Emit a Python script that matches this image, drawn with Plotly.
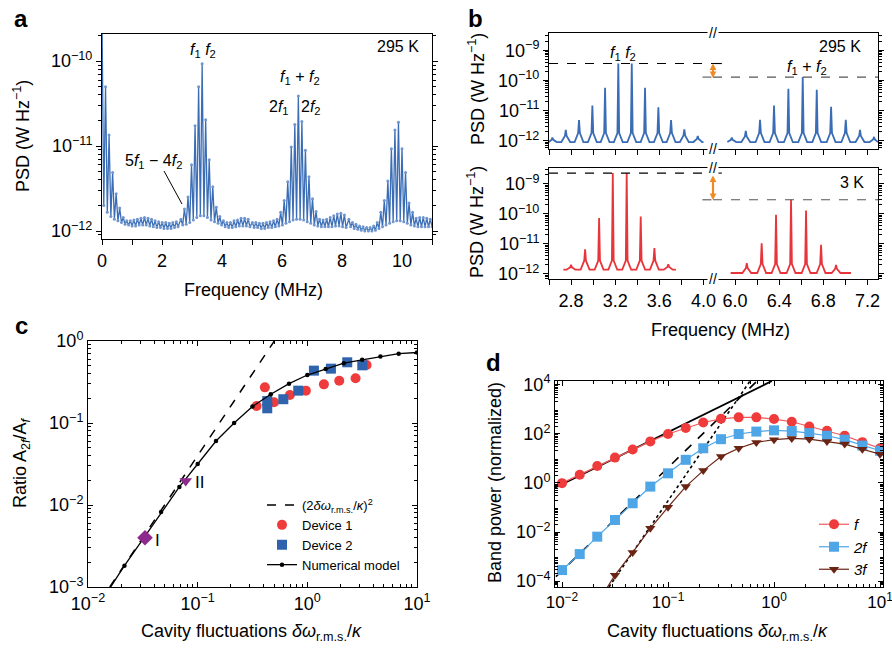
import plotly.graph_objects as go

W, H = 892, 648
def px(x): return x / W
def py(y): return 1 - y / H

FONT = "Liberation Sans, Arial, sans-serif"

# ---------------- Panel a: 295 K spectrum (log10 PSD) ----------------
a_tooth_spacing = 0.118
a_seg_start = [0.0, 2.63, 5.011, 8.23]
a_seg_peak_log = [
    [-9.5, -10.30, -10.87, -11.31, -11.56, -11.73, -11.84, -11.88, -11.88, -11.87, -11.86,
     -11.85, -11.84, -11.85, -11.86, -11.88, -11.89, -11.90, -11.90, -11.91, -11.90, -11.89],
    [-11.86, -11.74, -11.60, -11.22, -10.76, -10.30, -10.03, -10.69, -11.16, -11.48, -11.72,
     -11.83, -11.88, -11.90, -11.90, -11.88, -11.87, -11.85, -11.85, -11.86],
    [-11.90, -11.90, -11.91, -11.91, -11.90, -11.89, -11.88, -11.86, -11.78, -11.64, -11.42,
     -11.01, -10.745, -10.41, -10.71, -11.05, -11.36, -11.62, -11.77, -11.86, -11.87, -11.86,
     -11.84, -11.82, -11.80, -11.79, -11.81],
    [-11.86, -11.90, -11.92, -11.94, -11.95, -11.96, -11.96, -11.94, -11.90, -11.78, -11.64,
     -11.41, -11.03, -10.81, -10.72, -11.03, -11.31, -11.67, -11.78, -11.85, -11.84, -11.84,
     -11.85, -11.86],
]
a_seg_trough_log = [
    [-11.70, -11.78, -11.83, -11.86, -11.88, -11.90, -11.92, -11.93, -11.94, -11.94, -11.93,
     -11.93, -11.93, -11.94, -11.95, -11.96, -11.96, -11.97, -11.97, -11.97, -11.96, -11.95],
    [-11.93, -11.92, -11.90, -11.87, -11.84, -11.82, -11.82, -11.84, -11.87, -11.89, -11.91,
     -11.93, -11.95, -11.96, -11.96, -11.95, -11.94, -11.94, -11.94, -11.95],
    [-11.96, -11.96, -11.97, -11.97, -11.96, -11.96, -11.95, -11.94, -11.93, -11.91, -11.89,
     -11.87, -11.86, -11.86, -11.87, -11.89, -11.91, -11.93, -11.94, -11.95, -11.95, -11.95,
     -11.95, -11.94, -11.94, -11.95, -11.96],
    [-11.95, -11.97, -11.98, -11.99, -12.00, -12.00, -12.00, -11.99, -11.97, -11.95, -11.93,
     -11.91, -11.89, -11.88, -11.88, -11.89, -11.91, -11.93, -11.94, -11.95, -11.95, -11.95,
     -11.95, -11.95],
]

# ---------------- Panel b: zoomed spectra ----------------
b_hot_left_peak_f = [2.631, 2.752, 2.872, 2.993, 3.108, 3.228, 3.350, 3.470, 3.591, 3.706, 3.826, 3.948]
b_hot_left_peak_log = [-11.89, -11.64, -11.31, -10.83, -10.24, -9.44, -9.44, -10.24, -10.89, -11.31, -11.62, -11.84]
b_hot_left_span = [2.60, 4.00]
b_hot_right_peak_f = [5.970, 6.097, 6.226, 6.353, 6.483, 6.613, 6.740, 6.870, 7.003, 7.132, 7.259]
b_hot_right_peak_log = [-11.89, -11.67, -11.30, -10.83, -10.28, -9.89, -10.31, -10.87, -11.30, -11.64, -11.87]
b_hot_right_span = [5.93, 7.295]
b_hot_base_log = -12.04
b_hot_levels_log = [-9.44, -9.89]

b_cold_left_peak_f = [2.800, 2.927, 3.054, 3.178, 3.304, 3.431, 3.555, 3.681]
b_cold_left_peak_log = [-11.70, -11.18, -10.14, -8.64, -8.64, -10.09, -11.14, -11.68]
b_cold_left_span = [2.73, 3.75]
b_cold_left_base_log = -11.86
b_cold_right_peak_f = [6.106, 6.241, 6.371, 6.507, 6.643, 6.779, 6.915]
b_cold_right_peak_log = [-11.64, -10.98, -10.03, -9.53, -9.89, -11.03, -11.70]
b_cold_right_span = [5.96, 7.05]
b_cold_right_base_log = -11.97
b_cold_levels_log = [-8.64, -9.53]
b_foot_rise_log = 0.3          # height of the broad foot of each line above the floor

b_left_range = [2.60, 4.086]
b_right_range = [5.80, 7.295]

# ---------------- Panel c ----------------
c_model_x = [0.01, 0.0147, 0.0215, 0.0316, 0.0464, 0.0681, 0.1, 0.147, 0.215, 0.316,
             0.464, 0.681, 1.0, 1.47, 2.15, 3.16, 4.64, 6.81, 10.0]
c_model_y = [10**v for v in [-3.40, -3.08, -2.74, -2.42, -2.085, -1.78, -1.50, -1.22, -1.00,
                             -0.80, -0.65, -0.52, -0.415, -0.34, -0.27, -0.23, -0.19, -0.155, -0.14]]
c_guide_x = [0.0158, 0.5]
c_guide_y = [0.001, 1.0]
c_dev1_x = [0.345, 0.410, 0.497, 0.693, 0.970, 1.416, 1.954, 2.754, 3.467]
c_dev1_y = [0.161, 0.272, 0.179, 0.219, 0.248, 0.296, 0.328, 0.351, 0.509]
c_dev2_x = [0.431, 0.431, 0.604, 0.826, 1.148, 1.641, 2.312, 3.170]
c_dev2_y = [0.151, 0.185, 0.195, 0.248, 0.435, 0.460, 0.550, 0.505]
c_pt1 = (0.0331, 0.00398)
c_pt2 = (0.0778, 0.0196)

# ---------------- Panel d ----------------
d_x = c_model_x
d_f_log = [-0.01, 0.33, 0.69, 1.03, 1.36, 1.69, 1.99, 2.24, 2.46, 2.61, 2.67, 2.67, 2.60,
           2.49, 2.30, 2.12, 1.92, 1.66, 1.41]
d_2f_log = [-3.55, -2.90, -2.19, -1.51, -0.83, -0.15, 0.39, 0.94, 1.41, 1.78, 1.99, 2.09,
            2.14, 2.11, 2.03, 1.92, 1.76, 1.52, 1.31]
d_3f_x = d_x[2:]
d_3f_log = [-4.9, -3.76, -2.83, -1.85, -0.99, -0.15, 0.50, 1.07, 1.41, 1.65, 1.76, 1.81,
            1.78, 1.69, 1.58, 1.37, 1.17]
d_asym1_x = [10**-2.066, 10**-0.02]
d_asym1_log = [-0.20, 4.15]
d_asym2_x = [10**-2.057, 10**-0.16]
d_asym2_log = [-3.82, 4.15]
d_asym3_x = [10**-1.557, 10**-0.226]
d_asym3_log = [-4.24, 4.15]

BLUE = '#3a6db5'
RED = '#e8353b'
LBLUE = '#4fa6e6'
BROWN = '#6b2414'
PURPLE = '#8e2a8e'
ORANGE = '#f08a24'

fig = go.Figure()

# ---- panel a traces
ax_, ay_ = [], []
for start, peaks, troughs in zip(a_seg_start, a_seg_peak_log, a_seg_trough_log):
    for k, (p, t) in enumerate(zip(peaks, troughs)):
        f = start + k * a_tooth_spacing
        ax_.append(f); ay_.append(10**p)
        ax_.append(f + a_tooth_spacing / 2); ay_.append(10**t)
fig.add_trace(go.Scatter(x=ax_, y=ay_, mode='lines+markers', xaxis='x', yaxis='y',
                         line=dict(color=BLUE, width=1.3), marker=dict(size=3, color='#6f95cf'),
                         showlegend=False))

# ---- panel b traces
FOOT_W = 0.04
NECK_W = 0.008
def spectrum(peaks_f, peaks_log, span, base):
    xs, ys = [span[0]], [10**base]
    for f, v in zip(peaks_f, peaks_log):
        rise = min(b_foot_rise_log, 0.5 * (v - base))
        left = [(f - FOOT_W, base), (f - NECK_W, base + rise)]
        right = [(f + NECK_W, base + rise), (f + FOOT_W, base)]
        for (xx, yy) in left + [(f, v)] + right:
            if span[0] <= xx <= span[1]:
                xs.append(xx); ys.append(10**yy)
    xs.append(span[1]); ys.append(10**base)
    return xs, ys

for (pf, pl, sp, base, col, xa, ya) in [
    (b_hot_left_peak_f, b_hot_left_peak_log, b_hot_left_span, b_hot_base_log, BLUE, 'x2', 'y2'),
    (b_hot_right_peak_f, b_hot_right_peak_log, b_hot_right_span, b_hot_base_log, BLUE, 'x3', 'y3'),
    (b_cold_left_peak_f, b_cold_left_peak_log, b_cold_left_span, b_cold_left_base_log, RED, 'x4', 'y4'),
    (b_cold_right_peak_f, b_cold_right_peak_log, b_cold_right_span, b_cold_right_base_log, RED, 'x5', 'y5'),
]:
    xs, ys = spectrum(pf, pl, sp, base)
    fig.add_trace(go.Scatter(x=xs, y=ys, mode='lines', xaxis=xa, yaxis=ya,
                             line=dict(color=col, width=1.8), showlegend=False))

# level lines in b
for levels, (xl, yl, xr, yr) in [(b_hot_levels_log, ('x2', 'y2', 'x3', 'y3')),
                                  (b_cold_levels_log, ('x4', 'y4', 'x5', 'y5'))]:
    fig.add_trace(go.Scatter(x=[b_left_range[0], b_left_range[1]], y=[10**levels[0]] * 2,
                             mode='lines', xaxis=xl, yaxis=yl, showlegend=False,
                             line=dict(color='black', width=1.1, dash='dash')))
    fig.add_trace(go.Scatter(x=[b_right_range[0], 5.88], y=[10**levels[0]] * 2,
                             mode='lines', xaxis=xr, yaxis=yr, showlegend=False,
                             line=dict(color='black', width=1.1, dash='dash')))
    fig.add_trace(go.Scatter(x=[3.99, b_left_range[1]], y=[10**levels[1]] * 2,
                             mode='lines', xaxis=xl, yaxis=yl, showlegend=False,
                             line=dict(color='#555555', width=1.1, dash='dash')))
    fig.add_trace(go.Scatter(x=[b_right_range[0], b_right_range[1]], y=[10**levels[1]] * 2,
                             mode='lines', xaxis=xr, yaxis=yr, showlegend=False,
                             line=dict(color='#555555', width=1.1, dash='dash')))

# ---- panel c traces
fig.add_trace(go.Scatter(x=c_guide_x, y=c_guide_y, mode='lines', xaxis='x6', yaxis='y6',
                         line=dict(color='black', width=1.5, dash='dash'),
                         name='(2<i>δω</i><sub>r.m.s.</sub>/<i>κ</i>)<sup>2</sup>', legend='legend'))
fig.add_trace(go.Scatter(x=c_dev1_x, y=c_dev1_y, mode='markers', xaxis='x6', yaxis='y6',
                         marker=dict(color='#ef3b3b', size=10, symbol='circle'),
                         name='Device 1', legend='legend'))
fig.add_trace(go.Scatter(x=c_dev2_x, y=c_dev2_y, mode='markers', xaxis='x6', yaxis='y6',
                         marker=dict(color='#2f63ae', size=10, symbol='square'),
                         name='Device 2', legend='legend'))
fig.add_trace(go.Scatter(x=c_model_x, y=c_model_y, mode='lines+markers', xaxis='x6', yaxis='y6',
                         line=dict(color='black', width=1.3), marker=dict(size=4.5, color='black'),
                         name='Numerical model', legend='legend'))
fig.add_trace(go.Scatter(x=[c_pt1[0]], y=[c_pt1[1]], mode='markers', xaxis='x6', yaxis='y6',
                         marker=dict(color=PURPLE, size=12, symbol='diamond'), showlegend=False))
fig.add_trace(go.Scatter(x=[c_pt2[0]], y=[c_pt2[1]], mode='markers', xaxis='x6', yaxis='y6',
                         marker=dict(color=PURPLE, size=11, symbol='triangle-down'), showlegend=False))

# ---- panel d traces
fig.add_trace(go.Scatter(x=d_asym1_x, y=[10**v for v in d_asym1_log], mode='lines', xaxis='x7', yaxis='y7',
                         line=dict(color='black', width=1.8), showlegend=False))
fig.add_trace(go.Scatter(x=d_asym2_x, y=[10**v for v in d_asym2_log], mode='lines', xaxis='x7', yaxis='y7',
                         line=dict(color='black', width=1.6, dash='dash'), showlegend=False))
fig.add_trace(go.Scatter(x=d_asym3_x, y=[10**v for v in d_asym3_log], mode='lines', xaxis='x7', yaxis='y7',
                         line=dict(color='black', width=1.6, dash='dot'), showlegend=False))
fig.add_trace(go.Scatter(x=d_x, y=[10**v for v in d_f_log], mode='lines+markers', xaxis='x7', yaxis='y7',
                         line=dict(color='#f05a5a', width=1.2), marker=dict(color='#ef3b3b', size=10, symbol='circle'),
                         name='<i>f</i>', legend='legend2'))
fig.add_trace(go.Scatter(x=d_x, y=[10**v for v in d_2f_log], mode='lines+markers', xaxis='x7', yaxis='y7',
                         line=dict(color=LBLUE, width=1.2), marker=dict(color=LBLUE, size=10, symbol='square'),
                         name='<i>2f</i>', legend='legend2'))
fig.add_trace(go.Scatter(x=d_3f_x, y=[10**v for v in d_3f_log], mode='lines+markers', xaxis='x7', yaxis='y7',
                         line=dict(color=BROWN, width=1.2), marker=dict(color=BROWN, size=9, symbol='triangle-down'),
                         name='<i>3f</i>', legend='legend2'))

# ---------------- axes ----------------
def pw(e):
    return "10<sup>" + (("\u2212" + str(-e)) if e < 0 else str(e)) + "</sup>"

def minor_vals(lo, hi):
    return [m * 10.0**e for e in range(lo, hi + 1) for m in range(2, 10)]

TF = dict(family=FONT, size=18, color='black')

def base_axis(ticks, mirror):
    return dict(showline=True, linecolor='black', linewidth=1, mirror=mirror, ticks=ticks,
                ticklen=5, tickwidth=1, tickcolor='black', showgrid=False, zeroline=False,
                tickfont=TF, automargin=False, ticklabeloverflow='allow')

def log_y(dom, rng, vals, anchor, ticks, mirror, labels=True, side='left', minor_range=None):
    d = base_axis(ticks, mirror)
    d.update(type='log', domain=dom, range=rng, anchor=anchor, side=side,
             tickmode='array', tickvals=[10.0**e for e in vals], ticktext=[pw(e) for e in vals],
             showticklabels=labels)
    if minor_range:
        d['minor'] = dict(tickmode='array', tickvals=minor_vals(*minor_range), ticks=ticks,
                          ticklen=3, tickcolor='black', showgrid=False)
    return d

layout = dict(template='none', width=W, height=H, margin=dict(l=0, r=0, t=0, b=0, pad=0),
              autosize=False,
              paper_bgcolor='white', plot_bgcolor='white', font=dict(family=FONT, color='black'))

# panel a
xa = base_axis('outside', True)
xa.update(domain=[px(102), px(432)], range=[0, 11], anchor='y', tickmode='array',
          tickvals=list(range(0, 12)), ticktext=[str(v) if v % 2 == 0 else '' for v in range(0, 12)])
layout['xaxis'] = xa
layout['yaxis'] = log_y([py(239), py(34)], [-12.094, -9.68], [-12, -11, -10], 'x', 'outside', 'ticks',
                        minor_range=(-13, -10))

# panel b
bt = [py(149), py(33)]
bb = [py(279), py(168)]
lt = [2.6 + 0.2 * i for i in range(8)]
rt = [5.8 + 0.2 * i for i in range(8)]
ltt = ['' if abs((v - 2.8) / 0.4 - round((v - 2.8) / 0.4)) > 1e-6 else f"{v:.1f}" for v in lt]
rtt = ['' if abs((v - 6.0) / 0.4 - round((v - 6.0) / 0.4)) > 1e-6 else f"{v:.1f}" for v in rt]
for name, dom, rng, anchor, tv, tt, lab in [
        ('xaxis2', [px(549), px(713)], b_left_range, 'y2', lt, ltt, False),
        ('xaxis3', [px(713), px(878)], b_right_range, 'y3', rt, rtt, False),
        ('xaxis4', [px(549), px(713)], b_left_range, 'y4', lt, ltt, True),
        ('xaxis5', [px(713), px(878)], b_right_range, 'y5', rt, rtt, True)]:
    d = base_axis('outside', True)
    d.update(domain=dom, range=rng, anchor=anchor, tickmode='array', tickvals=tv, ticktext=tt,
             showticklabels=lab, ticklen=5)
    layout[name] = d
layout['yaxis2'] = log_y(bt, [-12.27, -8.43], [-12, -11, -10, -9], 'x2', 'outside', False,
                         minor_range=(-13, -9))
layout['yaxis3'] = log_y(bt, [-12.27, -8.43], [-12, -11, -10, -9], 'x3', 'outside', False,
                         labels=False, side='right', minor_range=(-13, -9))
layout['yaxis4'] = log_y(bb, [-12.17, -8.47], [-12, -11, -10, -9], 'x4', 'outside', False,
                         minor_range=(-13, -9))
layout['yaxis5'] = log_y(bb, [-12.17, -8.47], [-12, -11, -10, -9], 'x5', 'outside', False,
                         labels=False, side='right', minor_range=(-13, -9))

# panel c
xc = base_axis('inside', 'ticks')
xc.update(type='log', domain=[px(88), px(417)], range=[-2, 1], anchor='y6', tickmode='array',
          tickvals=[10.0**e for e in [-2, -1, 0, 1]], ticktext=[pw(e) for e in [-2, -1, 0, 1]],
          minor=dict(tickmode='array', tickvals=minor_vals(-2, 0), ticks='inside', ticklen=3,
                     tickcolor='black', showgrid=False))
layout['xaxis6'] = xc
layout['yaxis6'] = log_y([py(587), py(341)], [-3, 0], [-3, -2, -1, 0], 'x6', 'inside', 'ticks',
                         minor_range=(-3, -1))

# panel d
xd = base_axis('inside', 'ticks')
xd.update(type='log', domain=[px(555), px(883)], range=[-2.066, 1.028], anchor='y7', tickmode='array',
          tickvals=[10.0**e for e in [-2, -1, 0, 1]], ticktext=[pw(e) for e in [-2, -1, 0, 1]],
          tickfont=dict(family=FONT, size=17, color='black'),
          minor=dict(tickmode='array', tickvals=minor_vals(-3, 0), ticks='inside', ticklen=3,
                     tickcolor='black', showgrid=False))
layout['xaxis7'] = xd
layout['yaxis7'] = log_y([py(587), py(381)], [-4.24, 4.15], [-4, -2, 0, 2, 4], 'x7', 'inside', 'ticks',
                         minor_range=(-5, 4))

layout['legend'] = dict(x=px(262), y=py(490), xanchor='left', yanchor='top', bgcolor='rgba(0,0,0,0)',
                        font=dict(family=FONT, size=13, color='black'), tracegroupgap=0, itemwidth=30)
layout['legend2'] = dict(x=px(814), y=py(508), xanchor='left', yanchor='top', bgcolor='rgba(0,0,0,0)',
                         font=dict(family=FONT, size=15, color='black'), tracegroupgap=0, itemwidth=30)

fig.update_layout(**layout)

# ---------------- annotations ----------------
def txt(x, y, s, size=16, angle=0, bold=False, bg=None):
    a = dict(x=px(x), y=py(y), xref='paper', yref='paper', text=('<b>%s</b>' % s) if bold else s,
             showarrow=False, textangle=angle, font=dict(family=FONT, size=size, color='black'),
             xanchor='center', yanchor='middle')
    if bg:
        a['bgcolor'] = bg
    fig.add_annotation(**a)

# panel letters
txt(21, 18, 'a', 24, bold=True)
txt(475, 18, 'b', 24, bold=True)
txt(21, 325, 'c', 24, bold=True)
txt(493, 362, 'd', 24, bold=True)

# axis titles
txt(21, 136, 'PSD (W Hz<sup>\u22121</sup>)', 18, angle=-90)
txt(253, 290, 'Frequency (MHz)', 18)
txt(476, 89, 'PSD (W Hz<sup>\u22121</sup>)', 18, angle=-90)
txt(476, 222, 'PSD (W Hz<sup>\u22121</sup>)', 18, angle=-90)
txt(720, 330, 'Frequency (MHz)', 18)
txt(252, 632, 'Cavity fluctuations <i>\u03b4\u03c9</i><sub>r.m.s.</sub>/<i>\u03ba</i>', 18)
txt(22, 463, 'Ratio A<sub>2<i>f</i></sub>/A<sub><i>f</i></sub>', 18, angle=-90)
txt(717, 632, 'Cavity fluctuations <i>\u03b4\u03c9</i><sub>r.m.s.</sub>/<i>\u03ba</i>', 18)
txt(495, 483, 'Band power (normalized)', 18, angle=-90)

# panel a labels
txt(398, 47, '295 K', 16)
txt(203, 50, '<i>f</i><sub>1</sub> <i>f</i><sub>2</sub>', 16)
txt(300, 78, '<i>f</i><sub>1</sub> + <i>f</i><sub>2</sub>', 16)
txt(279, 108, '2<i>f</i><sub>1</sub>', 16)
txt(311, 108, '2<i>f</i><sub>2</sub>', 16)
txt(153, 161, '5<i>f</i><sub>1</sub> \u2212 4<i>f</i><sub>2</sub>', 16)
fig.add_shape(type='line', xref='paper', yref='paper', x0=px(164), y0=py(171), x1=px(182), y1=py(204),
              line=dict(color='black', width=1))

# panel b labels
txt(840, 47, '295 K', 16)
txt(852, 182, '3 K', 16)
txt(623, 53, '<i>f</i><sub>1</sub> <i>f</i><sub>2</sub>', 16)
txt(807, 67, '<i>f</i><sub>1</sub> + <i>f</i><sub>2</sub>', 16)

# break marks
for yy in [33, 149, 168, 279]:
    txt(713, yy, '//', 14, bg='white')

# orange double arrows (head at lower level, tail offset in pixels upward)
for y0, y1 in [(62, 78), (174, 200)]:
    fig.add_annotation(x=px(713), y=py(y1), xref='paper', yref='paper', ax=0, ay=-(y1 - y0),
                       axref='pixel', ayref='pixel', text='', showarrow=True, arrowhead=2,
                       arrowside='end+start', arrowsize=0.6, arrowwidth=2.2, arrowcolor=ORANGE)

# panel c point labels
txt(157, 540, 'I', 17)
txt(199, 482, 'II', 17)

fig.write_html("out.html", config={'displayModeBar': False, 'staticPlot': True},
               post_script="document.body.style.margin='0';document.body.style.overflow='hidden';")
